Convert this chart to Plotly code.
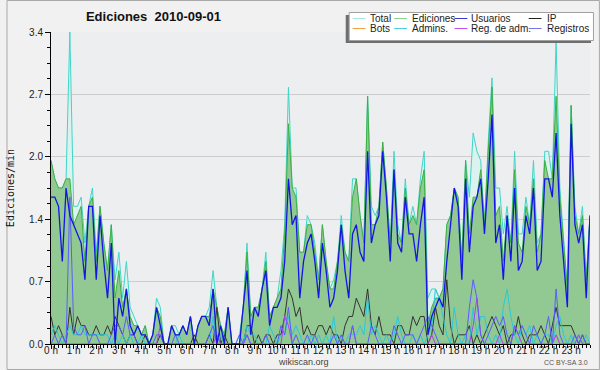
import plotly.graph_objects as go

# ---- data: 10-minute bins over the day (edits per minute) ----
minutes = list(range(0, 1440, 10))
hour_ticks = list(range(24))
hour_labels = [f"{h} h" for h in hour_ticks]

total = [
    2.0, 1.8, 1.7, 1.7, 1.8, 3.4,
    1.5, 1.5, 1.6, 1.1, 1.5, 1.7,
    1.0, 1.5, 1.1, 0.8, 1.3, 0.7,
    1.0, 0.5, 0.9, 0.4, 0.3, 0.2,
    0.1, 0.2, 0.0, 0.1, 0.5, 0.4,
    0.0, 0.0, 0.2, 0.2, 0.1, 0.2,
    0.1, 0.3, 0.0, 0.2, 0.3, 0.3,
    0.4, 0.8, 0.4, 0.2, 0.1, 0.4,
    0.0, 0.0, 0.1, 0.4, 1.1, 0.3,
    0.4, 0.4, 0.6, 1.0, 0.3, 0.4,
    0.5, 0.8, 1.3, 2.8, 1.7, 1.7,
    1.0, 1.0, 1.4, 1.3, 1.1, 0.7,
    1.3, 0.9, 0.6, 0.7, 0.9, 1.4,
    1.0, 0.9, 1.8, 1.8, 1.4, 1.1,
    2.7, 1.5, 1.4, 1.5, 2.2, 1.7,
    1.1, 2.1, 1.3, 1.1, 1.8, 1.3,
    1.5, 1.3, 1.8, 2.1, 0.5, 0.6,
    0.6, 0.5, 0.6, 1.3, 1.4, 1.7,
    1.6, 0.9, 2.0, 1.6, 2.3, 2.1,
    2.0, 1.3, 2.2, 2.9, 1.7, 1.7,
    1.2, 1.5, 1.1, 2.1, 1.2, 1.2,
    1.6, 1.3, 2.0, 1.1, 1.2, 2.1,
    2.1, 1.8, 3.3, 1.7, 1.1, 0.6,
    2.6, 1.5, 1.2, 1.5, 0.7, 1.4,
]
ediciones = [
    2.0, 1.8, 1.7, 1.7, 1.8, 1.8,
    1.3, 1.4, 1.5, 0.9, 1.5, 1.6,
    0.9, 1.5, 1.1, 0.8, 1.3, 0.5,
    0.8, 0.4, 0.6, 0.3, 0.2, 0.2,
    0.1, 0.2, 0.0, 0.1, 0.4, 0.3,
    0.0, 0.0, 0.2, 0.1, 0.1, 0.2,
    0.1, 0.3, 0.0, 0.2, 0.3, 0.3,
    0.3, 0.6, 0.4, 0.2, 0.1, 0.4,
    0.0, 0.0, 0.0, 0.4, 1.0, 0.3,
    0.4, 0.4, 0.6, 0.9, 0.3, 0.4,
    0.5, 0.6, 1.2, 2.4, 1.7, 1.6,
    1.0, 1.0, 1.3, 1.3, 1.0, 0.7,
    1.3, 0.9, 0.6, 0.6, 0.9, 1.3,
    1.0, 0.9, 1.6, 1.8, 1.4, 1.1,
    2.7, 1.3, 1.3, 1.5, 2.2, 1.7,
    1.1, 1.9, 1.2, 1.1, 1.7, 1.3,
    1.4, 1.3, 1.7, 1.9, 0.2, 0.4,
    0.5, 0.5, 0.6, 1.3, 1.4, 1.7,
    1.6, 0.9, 2.0, 1.2, 1.6, 1.6,
    1.9, 1.3, 2.1, 2.8, 1.4, 1.5,
    0.9, 1.4, 1.1, 1.9, 1.1, 1.0,
    1.5, 1.3, 1.8, 1.0, 1.2, 2.0,
    1.8, 1.8, 2.7, 1.6, 1.1, 0.6,
    2.6, 1.4, 1.2, 1.4, 0.7, 1.4,
]
usuarios = [
    1.6, 1.6, 1.5, 0.9, 1.7, 1.4,
    1.3, 1.2, 1.1, 0.7, 1.5, 1.5,
    0.7, 1.4, 0.9, 0.5, 1.1, 0.0,
    0.5, 0.3, 0.6, 0.2, 0.1, 0.2,
    0.1, 0.1, 0.0, 0.1, 0.4, 0.2,
    0.0, 0.0, 0.2, 0.1, 0.1, 0.2,
    0.1, 0.3, 0.0, 0.2, 0.3, 0.3,
    0.2, 0.6, 0.0, 0.2, 0.0, 0.4,
    0.0, 0.0, 0.0, 0.4, 0.8, 0.1,
    0.4, 0.3, 0.6, 0.8, 0.2, 0.4,
    0.4, 0.5, 0.9, 1.8, 1.3, 1.4,
    0.5, 0.9, 1.1, 1.2, 0.9, 0.5,
    1.1, 0.8, 0.4, 0.5, 0.8, 1.3,
    0.8, 0.5, 1.2, 1.3, 1.0, 0.9,
    2.1, 1.1, 1.3, 1.4, 2.1, 1.6,
    0.9, 1.9, 1.1, 1.0, 1.6, 1.2,
    1.2, 0.9, 1.3, 1.6, 0.1, 0.3,
    0.4, 0.5, 0.4, 0.9, 1.3, 1.7,
    1.5, 0.7, 1.8, 1.0, 1.5, 1.6,
    1.8, 1.2, 1.8, 2.5, 1.1, 1.3,
    0.7, 1.4, 0.9, 1.7, 0.8, 0.9,
    1.4, 1.2, 1.7, 0.8, 0.9, 1.8,
    1.8, 1.6, 2.3, 1.4, 0.9, 0.4,
    2.4, 1.3, 1.1, 1.3, 0.5, 1.4,
]
ip = [
    0.3, 0.1, 0.2, 0.1, 0.0, 0.4,
    0.1, 0.3, 0.2, 0.2, 0.1, 0.1,
    0.2, 0.1, 0.1, 0.2, 0.1, 0.3,
    0.2, 0.1, 0.0, 0.1, 0.1, 0.0,
    0.0, 0.1, 0.0, 0.0, 0.0, 0.1,
    0.0, 0.0, 0.0, 0.0, 0.0, 0.0,
    0.0, 0.0, 0.1, 0.0, 0.0, 0.0,
    0.1, 0.0, 0.4, 0.0, 0.1, 0.0,
    0.0, 0.0, 0.0, 0.0, 0.2, 0.2,
    0.0, 0.1, 0.0, 0.1, 0.1, 0.0,
    0.1, 0.1, 0.3, 0.6, 0.5, 0.3,
    0.4, 0.1, 0.2, 0.1, 0.1, 0.2,
    0.2, 0.1, 0.2, 0.1, 0.1, 0.0,
    0.2, 0.3, 0.3, 0.5, 0.4, 0.3,
    0.6, 0.2, 0.1, 0.3, 0.1, 0.1,
    0.1, 0.0, 0.2, 0.2, 0.1, 0.1,
    0.3, 0.2, 0.3, 0.3, 0.0, 0.1,
    0.4, 0.2, 0.1, 0.7, 0.2, 0.0,
    0.1, 0.1, 0.1, 0.2, 0.0, 0.1,
    0.0, 0.1, 0.2, 0.3, 0.2, 0.1,
    0.2, 0.0, 0.1, 0.1, 0.3, 0.1,
    0.0, 0.1, 0.1, 0.1, 0.2, 0.1,
    0.0, 0.2, 0.4, 0.2, 0.2, 0.2,
    0.2, 0.1, 0.0, 0.1, 0.0, 0.0,
]
bots = [0.0] * 144
admins = [
    0.1, 0.2, 0.1, 0.0, 0.1, 0.2,
    0.1, 0.1, 0.2, 0.1, 0.1, 0.1,
    0.1, 0.1, 0.1, 0.1, 0.0, 0.1,
    0.0, 0.1, 0.0, 0.1, 0.0, 0.0,
    0.1, 0.0, 0.0, 0.0, 0.0, 0.0,
    0.0, 0.0, 0.0, 0.0, 0.1, 0.0,
    0.0, 0.0, 0.0, 0.0, 0.0, 0.0,
    0.0, 0.3, 0.0, 0.1, 0.0, 0.0,
    0.0, 0.0, 0.0, 0.0, 0.2, 0.1,
    0.1, 0.0, 0.0, 0.0, 0.2, 0.1,
    0.0, 0.1, 0.1, 0.3, 0.1, 0.2,
    0.1, 0.0, 0.0, 0.1, 0.0, 0.1,
    0.0, 0.1, 0.0, 0.3, 0.0, 0.1,
    0.0, 0.1, 0.1, 0.1, 0.2, 0.1,
    0.5, 0.1, 0.2, 0.1, 0.0, 0.1,
    0.0, 0.1, 0.3, 0.1, 0.0, 0.0,
    0.1, 0.0, 0.1, 0.0, 0.1, 0.2,
    0.6, 0.5, 0.3, 0.1, 0.0, 0.4,
    0.1, 0.0, 0.1, 0.0, 0.4, 0.1,
    0.3, 0.3, 0.1, 0.0, 0.1, 0.0,
    0.4, 0.6, 0.3, 0.1, 0.0, 0.2,
    0.1, 0.2, 0.0, 0.1, 0.0, 0.1,
    0.1, 0.0, 0.2, 0.3, 0.1, 0.0,
    0.1, 0.0, 0.1, 0.0, 0.1, 0.0,
]
reg_adm = [
    0.0, 0.0, 0.0, 0.0, 0.0, 0.0,
    0.0, 0.0, 0.0, 0.0, 0.0, 0.0,
    0.0, 0.0, 0.0, 0.0, 0.0, 0.0,
    0.0, 0.0, 0.0, 0.0, 0.0, 0.0,
    0.0, 0.0, 0.0, 0.0, 0.0, 0.2,
    0.0, 0.0, 0.0, 0.0, 0.0, 0.0,
    0.0, 0.0, 0.0, 0.0, 0.0, 0.0,
    0.0, 0.0, 0.1, 0.0, 0.0, 0.0,
    0.0, 0.0, 0.0, 0.0, 0.1, 0.0,
    0.0, 0.0, 0.0, 0.0, 0.0, 0.0,
    0.0, 0.0, 0.3, 0.2, 0.0, 0.0,
    0.0, 0.0, 0.0, 0.0, 0.0, 0.0,
    0.0, 0.0, 0.0, 0.0, 0.0, 0.0,
    0.0, 0.0, 0.2, 0.0, 0.0, 0.0,
    0.0, 0.0, 0.0, 0.0, 0.0, 0.0,
    0.0, 0.0, 0.0, 0.0, 0.0, 0.0,
    0.0, 0.0, 0.0, 0.0, 0.0, 0.1,
    0.0, 0.0, 0.0, 0.0, 0.0, 0.0,
    0.0, 0.0, 0.0, 0.0, 0.2, 0.5,
    0.1, 0.0, 0.0, 0.0, 0.0, 0.1,
    0.0, 0.0, 0.0, 0.2, 0.1, 0.0,
    0.0, 0.0, 0.0, 0.0, 0.0, 0.0,
    0.0, 0.0, 0.1, 0.0, 0.0, 0.0,
    0.0, 0.0, 0.1, 0.0, 0.0, 0.0,
]
registros = [
    0.0, 0.1, 0.0, 0.1, 0.0, 1.6,
    0.2, 0.1, 0.1, 0.2, 0.0, 0.1,
    0.1, 0.0, 0.0, 0.0, 0.1, 0.2,
    0.2, 0.1, 0.3, 0.1, 0.1, 0.0,
    0.0, 0.0, 0.0, 0.0, 0.1, 0.1,
    0.0, 0.0, 0.0, 0.1, 0.0, 0.0,
    0.0, 0.0, 0.0, 0.0, 0.0, 0.0,
    0.1, 0.2, 0.0, 0.0, 0.0, 0.0,
    0.0, 0.0, 0.1, 0.0, 0.1, 0.0,
    0.0, 0.0, 0.0, 0.1, 0.0, 0.0,
    0.0, 0.2, 0.1, 0.4, 0.0, 0.1,
    0.0, 0.0, 0.1, 0.0, 0.1, 0.0,
    0.0, 0.0, 0.0, 0.1, 0.0, 0.1,
    0.0, 0.0, 0.2, 0.0, 0.0, 0.0,
    0.0, 0.2, 0.1, 0.0, 0.0, 0.0,
    0.0, 0.2, 0.1, 0.0, 0.1, 0.1,
    0.1, 0.0, 0.1, 0.2, 0.3, 0.2,
    0.1, 0.0, 0.0, 0.0, 0.0, 0.0,
    0.0, 0.0, 0.0, 0.4, 0.7, 0.5,
    0.1, 0.0, 0.1, 0.2, 0.3, 0.2,
    0.3, 0.1, 0.0, 0.2, 0.1, 0.2,
    0.1, 0.0, 0.2, 0.1, 0.0, 0.1,
    0.3, 0.0, 0.6, 0.1, 0.0, 0.0,
    0.0, 0.1, 0.0, 0.1, 0.0, 0.0,
]

y_tick_vals = [0, 0.68, 1.36, 2.04, 2.72, 3.4]
y_tick_text = ["0.0", "0.7", "1.4", "2.0", "2.7", "3.4"]

hours = [m / 60 for m in minutes]

# ---- geometry ----
W, H = 600, 370
L, R, T, B = 45, 10, 32, 26
PW, PH = W - L - R, H - T - B


def px(x):
    return (x - L) / PW


def py(y):
    return (H - B - y) / PH


C_TOTAL = "#3fd6c8"
C_EDIC = "#3cb043"
C_USU = "#1414e6"
C_IP = "#333333"
C_BOTS = "#f5a030"
C_ADM = "#28c8dc"
C_REGADM = "#b83ce6"
C_REG = "#5c5cff"

# legend swatches (drawn lighter in the reference key)
series = [
    ("Total", total, "#a6e6de"),
    ("Ediciones", ediciones, "#8ed48e"),
    ("Usuarios", usuarios, "#3a3ad2"),
    ("IP", ip, "#222222"),
    ("Bots", bots, "#f0a040"),
    ("Admins.", admins, "#4ccde0"),
    ("Reg. de adm.", reg_adm, "#c050e8"),
    ("Registros", registros, "#7474f0"),
]

fig = go.Figure()
fig.add_trace(go.Scatter(x=hours, y=total, name="Total", mode="lines",
                         line=dict(color=C_TOTAL, width=1), fill="tozeroy",
                         fillcolor="#dbf2ee", showlegend=False))
fig.add_trace(go.Scatter(x=hours, y=ediciones, name="Ediciones", mode="lines",
                         line=dict(color=C_EDIC, width=1), fill="tozeroy",
                         fillcolor="rgb(146,201,146)", showlegend=False))
for name, vals, col, w in [
    ("Bots", bots, C_BOTS, 1),
    ("IP", ip, C_IP, 1),
    ("Admins.", admins, C_ADM, 1),
    ("Reg. de adm.", reg_adm, C_REGADM, 1),
    ("Registros", registros, C_REG, 1),
    ("Usuarios", usuarios, C_USU, 1.3),
]:
    fig.add_trace(go.Scatter(x=hours, y=vals, name=name, mode="lines",
                             line=dict(color=col, width=w), showlegend=False))

shapes = []
annotations = []
# outer frame
shapes.append(dict(type="rect", xref="paper", yref="paper",
                   x0=px(0.5), x1=px(W - 0.5), y0=py(H - 0.5), y1=py(0.5),
                   line=dict(color="#a8a8a8", width=1), layer="below"))
# legend box (shadow + box)
shapes.append(dict(type="rect", xref="paper", yref="paper",
                   x0=px(343), x1=px(591), y0=py(43), y1=py(15),
                   fillcolor="#6e6e6e", line=dict(width=0), layer="above"))
shapes.append(dict(type="rect", xref="paper", yref="paper",
                   x0=px(346.5), x1=px(593.5), y0=py(40.5), y1=py(12.5),
                   fillcolor="white", line=dict(color="#a0a0a0", width=1), layer="above"))
col_line_x = [350, 392, 453, 528]
col_text_x = [366, 408, 468, 545]
row_y = [18.5, 28.5]
for k, (name, vals, col) in enumerate(series):
    r, c = divmod(k, 4)
    shapes.append(dict(type="line", xref="paper", yref="paper",
                       x0=px(col_line_x[c]), x1=px(col_line_x[c] + 13),
                       y0=py(row_y[r]), y1=py(row_y[r]),
                       line=dict(color=col, width=1), layer="above"))
    annotations.append(dict(xref="paper", yref="paper", x=px(col_text_x[c]), y=py(row_y[r]),
                            text=name, showarrow=False, xanchor="left", yanchor="middle",
                            font=dict(family="Liberation Sans", size=10, color="#222")))

annotations.append(dict(xref="paper", yref="paper", x=px(300), y=py(362), text="wikiscan.org",
                        showarrow=False, xanchor="center", yanchor="middle",
                        font=dict(family="Liberation Sans", size=9, color="#444")))
annotations.append(dict(xref="paper", yref="paper", x=px(590), y=py(362.5), text="CC BY-SA 3.0",
                        showarrow=False, xanchor="right", yanchor="middle",
                        font=dict(family="Liberation Sans", size=7, color="#555")))

fig.update_layout(
    width=W, height=H,
    margin=dict(l=L, r=R, t=T, b=B, pad=0),
    paper_bgcolor="#f1f1f1",
    plot_bgcolor="#edeef0",
    showlegend=False,
    title=dict(text="Ediciones\u00a0 2010-09-01", x=153.5 / W, xref="container", xanchor="center",
               y=1 - 16.5 / H, yref="container", yanchor="middle",
               font=dict(family="Liberation Sans", size=13, color="#111", weight="bold")),
    xaxis=dict(range=[0, hours[-1]], showline=True, linecolor="black", linewidth=1,
               ticks="outside", ticklen=4, tickcolor="black", tickwidth=1,
               tickvals=hour_ticks, ticktext=hour_labels, showgrid=False, zeroline=False,
               ticklabelstandoff=-7,
               tickfont=dict(family="Liberation Sans", size=10, color="#222"),
               minor=dict(ticks="outside", tick0=0, dtick=1 / 6, ticklen=3,
                          tickcolor="black", showgrid=False)),
    yaxis=dict(range=[0, 3.4], showline=True, linecolor="black", linewidth=1,
               ticks="outside", ticklen=5, tickcolor="black", tickwidth=1,
               tickvals=y_tick_vals, ticktext=y_tick_text, showgrid=True,
               gridcolor="#cdcdcd", gridwidth=1, zeroline=False,
               tickfont=dict(family="Liberation Sans", size=10, color="#222"),
               title=dict(text="Ediciones/min", standoff=12,
                          font=dict(family="DejaVu Sans Mono", size=10, color="#111")),
               minor=dict(ticks="outside", tick0=0, dtick=0.17, ticklen=3,
                          tickcolor="black", showgrid=False)),
    shapes=shapes,
    annotations=annotations,
)

fig.write_html("out.html", config={"displayModeBar": False},
               post_script="document.body.style.margin='0';document.body.style.overflow='hidden';")
